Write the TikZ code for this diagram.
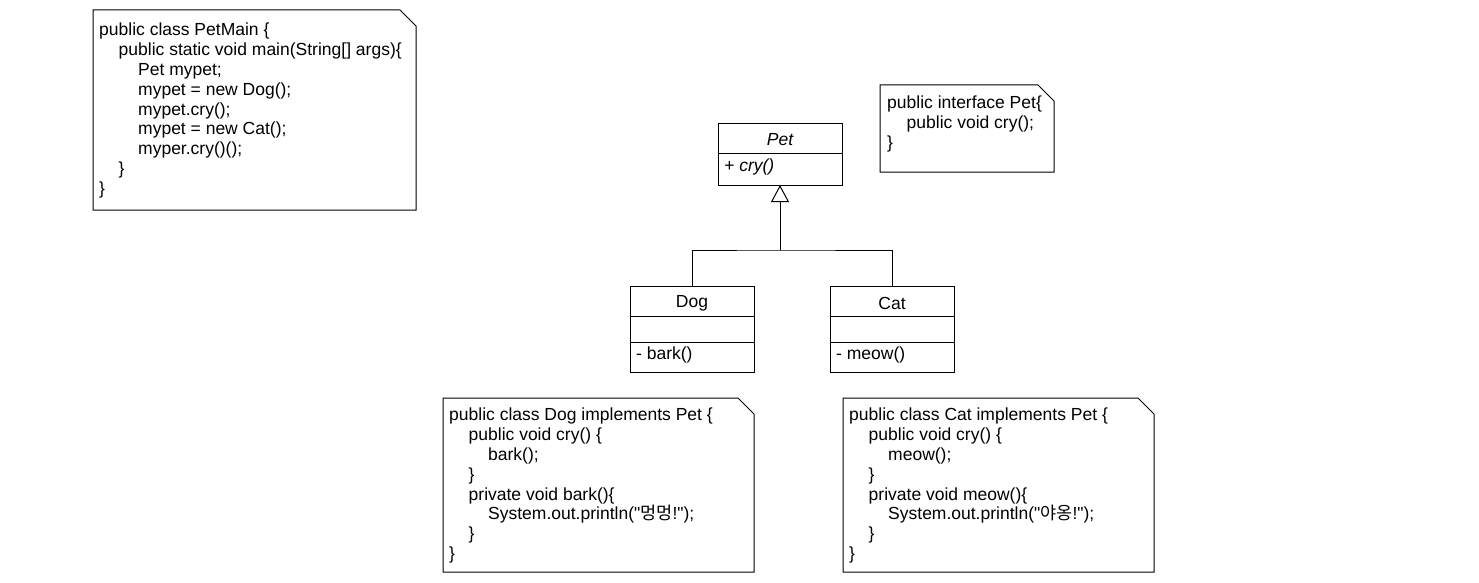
\documentclass[tikz,border=0pt]{standalone}
\usepackage{fontspec}
\setmainfont{Liberation Sans}
\newfontfamily\korfont{Noto Sans CJK KR}
\newfontfamily\plainfont{Liberation Sans}
\usepackage{tikz}
\usetikzlibrary{arrows.meta,positioning,calc}
\definecolor{umlBlack}{RGB}{0,0,0}

\tikzset{
    umlline/.style={draw=umlBlack, line width=1pt},
    memo/.style={minimum width=#1, inner sep=0pt, outer sep=0pt, anchor=north west},
    umlclass/.style={umlline, minimum width=124, inner sep=0pt, outer sep=0pt, anchor=north west},
    code/.style={align=left, inner sep=0pt, anchor=north west}
}
\newcommand{\ind}{\hspace*{19.5pt}}
\newcommand{\qt}{{\plainfont "}}
\newcommand{\drawmemo}[1]{%
    \draw[umlline] (#1.north west) -- ($(#1.north east)+(-16,0)$) -- ($(#1.north east)+(0,16)$)
        -- (#1.south east) -- (#1.south west) -- cycle;
}

\begin{document}
\begin{tikzpicture}[x=1pt, y=-1pt, font=\fontsize{17.5}{19.8}\selectfont]
                    \useasboundingbox (0,0) rectangle (1479,583);
                    % PetMain note
                    \node[memo=323, minimum height=200] (mainmemo) at (93,10) {};
                    \drawmemo{mainmemo}
                    \node[code] (maincode) at ($(mainmemo.north west)+(6,13)$) {public class PetMain \{\\
                        \ind public static void main(String[] args)\{\\
                        \ind\ind Pet mypet;\\
                        \ind\ind mypet = new Dog();\\
                        \ind\ind mypet.cry();\\
                        \ind\ind mypet = new Cat();\\
                        \ind\ind myper.cry()();\\
                        \ind \}\\
                        \}};

                    % Interface note
                    \node[memo=174, minimum height=87] (petmemo) at (880,85) {};
                    \drawmemo{petmemo}
                    \node[code] (petcode) at ($(petmemo.north west)+(7,11)$) {public interface Pet\{\\
                        \ind public void cry();\\
                        \}};

                    % Pet
                    \node[umlclass, minimum height=61] (pet) at (718,124) {};
                    \draw[umlline] ($(pet.north west)+(0,29)$) -- ($(pet.north east)+(0,29)$);
                    \node[font=\fontsize{17.5}{19.8}\selectfont\itshape] (petname) at ($(pet.north)+(0,16)$) {Pet};
                    \node[anchor=west, inner sep=0pt, font=\fontsize{17.5}{19.8}\selectfont\itshape] (petop) at ($(pet.north west)+(6,43)$) {+ cry()};

                    % Dog
                    \node[umlclass, minimum height=86] (dog) at (630,286) {};
                    \draw[umlline] ($(dog.north west)+(0,30)$) -- ($(dog.north east)+(0,30)$);
                    \draw[umlline] ($(dog.north west)+(0,56)$) -- ($(dog.north east)+(0,56)$);
                    \node (dogname) at ($(dog.north)+(0,17)$) {Dog};
                    \node[anchor=west, inner sep=0pt] (dogop) at ($(dog.north west)+(6,69)$) {- bark()};

                    % Cat
                    \node[umlclass, minimum height=86] (cat) at (830,286) {};
                    \draw[umlline] ($(cat.north west)+(0,30)$) -- ($(cat.north east)+(0,30)$);
                    \draw[umlline] ($(cat.north west)+(0,56)$) -- ($(cat.north east)+(0,56)$);
                    \node (catname) at ($(cat.north)+(0,17)$) {Cat};
                    \node[anchor=west, inner sep=0pt] (catop) at ($(cat.north west)+(6,69)$) {- meow()};

                    % Generalization
                    \coordinate (junction) at (pet.south |- 0,250);
                    \draw[umlline] (dog.north) |- (junction) -| (cat.north);
                    \draw[umlline, -{Triangle[open, length=17pt, width=18pt]}] (junction) -- (pet.south);

                    % Dog note
                    \node[memo=311, minimum height=174] (dogmemo) at (443,398) {};
                    \drawmemo{dogmemo}
                    \node[code] (dogcode) at ($(dogmemo.north west)+(6,10)$) {public class Dog implements Pet \{\\
                        \ind public void cry() \{\\
                        \ind\ind bark();\\
                        \ind \}\\
                        \ind private void bark()\{\\
                        \ind\ind System.out.println(\qt{\korfont 멍멍}!\qt);\\
                        \ind \}\\
                        \}};

                    % Cat note
                    \node[memo=311, minimum height=174] (catmemo) at (843,398) {};
                    \drawmemo{catmemo}
                    \node[code] (catcode) at ($(catmemo.north west)+(6,10)$) {public class Cat implements Pet \{\\
                        \ind public void cry() \{\\
                        \ind\ind meow();\\
                        \ind \}\\
                        \ind private void meow()\{\\
                        \ind\ind System.out.println(\qt{\korfont 야옹}!\qt);\\
                        \ind \}\\
                        \}};
                \end{tikzpicture}
\end{document}
